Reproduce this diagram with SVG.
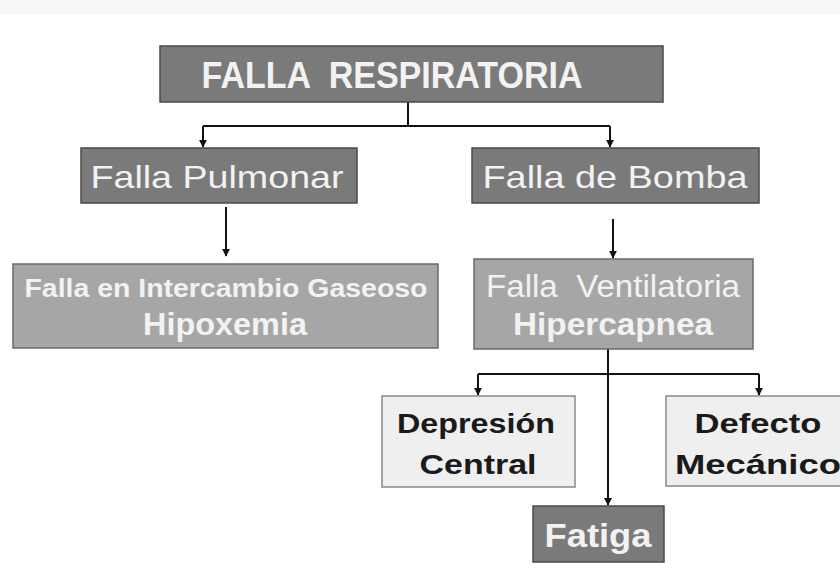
<svg xmlns="http://www.w3.org/2000/svg" width="840" height="571" viewBox="0 0 840 571" xml:space="preserve">
<defs>
<style>
.dark{fill:#7a7a7a;stroke:#4a4a4a;stroke-width:1.5}
.mid{fill:#a6a6a6;stroke:#6a6a6a;stroke-width:1.5}
.light{fill:#efefef;stroke:#8a8a8a;stroke-width:1.5}
.wt{fill:#f2f2f2;font-family:"Liberation Sans",Arial,sans-serif;text-anchor:middle;white-space:pre}
.bt{fill:#1a1a1a;font-family:"Liberation Sans",Arial,sans-serif;font-weight:bold;text-anchor:middle}
.b{font-weight:bold}
.con{fill:none;stroke:#111;stroke-width:2}
</style>
<marker id="ah" viewBox="0 0 10 10" refX="9" refY="5" markerWidth="4" markerHeight="4" orient="auto" markerUnits="strokeWidth">
<path d="M0,0 L10,5 L0,10 z" fill="#111"/>
</marker>
</defs>
<rect x="0" y="0" width="840" height="571" fill="#ffffff"/>
<rect x="0" y="0" width="840" height="14" fill="#f6f6f6"/>
<g id="connectors">
<path class="con" d="M408,102 V126 M203,126 H610"/>
<path class="con" d="M203,126 V147" marker-end="url(#ah)"/>
<path class="con" d="M610,126 V147" marker-end="url(#ah)"/>
<path class="con" d="M226,207 V256" marker-end="url(#ah)"/>
<path class="con" d="M613,219 V258" marker-end="url(#ah)"/>
<path class="con" d="M608,349 V505" marker-end="url(#ah)"/>
<path class="con" d="M478,374 H759"/>
<path class="con" d="M478,374 V395" marker-end="url(#ah)"/>
<path class="con" d="M759,374 V395" marker-end="url(#ah)"/>
</g>
<g id="falla-respiratoria">
<rect class="dark" x="160" y="46" width="503" height="56"/>
<text class="wt b" x="392" y="88" font-size="37" textLength="381" lengthAdjust="spacingAndGlyphs">FALLA  RESPIRATORIA</text>
</g>
<g id="falla-pulmonar">
<rect class="dark" x="81" y="148" width="276" height="55"/>
<text class="wt" x="217" y="188" font-size="32" textLength="253" lengthAdjust="spacingAndGlyphs">Falla Pulmonar</text>
</g>
<g id="falla-bomba">
<rect class="dark" x="472" y="148" width="287" height="55"/>
<text class="wt" x="615" y="188" font-size="32" textLength="265" lengthAdjust="spacingAndGlyphs">Falla de Bomba</text>
</g>
<g id="intercambio">
<rect class="mid" x="13" y="264" width="425" height="84"/>
<text class="wt b" x="226" y="297" font-size="25" textLength="403" lengthAdjust="spacingAndGlyphs">Falla en Intercambio Gaseoso</text>
<text class="wt b" x="225" y="335" font-size="31" textLength="164" lengthAdjust="spacingAndGlyphs">Hipoxemia</text>
</g>
<g id="ventilatoria">
<rect class="mid" x="474" y="259" width="279" height="90"/>
<text class="wt" x="613" y="297" font-size="31" textLength="254" lengthAdjust="spacingAndGlyphs">Falla  Ventilatoria</text>
<text class="wt b" x="613" y="335" font-size="31" textLength="200" lengthAdjust="spacingAndGlyphs">Hipercapnea</text>
</g>
<g id="depresion">
<rect class="light" x="382" y="396" width="193" height="91"/>
<text class="bt" x="476" y="433" font-size="28" textLength="158" lengthAdjust="spacingAndGlyphs">Depresión</text>
<text class="bt" x="478" y="474" font-size="28" textLength="117" lengthAdjust="spacingAndGlyphs">Central</text>
</g>
<g id="defecto">
<rect class="light" x="666" y="396" width="180" height="90"/>
<text class="bt" x="758" y="433" font-size="28" textLength="127" lengthAdjust="spacingAndGlyphs">Defecto</text>
<text class="bt" x="758" y="474" font-size="28" textLength="166" lengthAdjust="spacingAndGlyphs">Mecánico</text>
</g>
<g id="fatiga">
<rect class="dark" x="533" y="506" width="131" height="56"/>
<text class="wt b" x="598" y="547" font-size="34" textLength="107" lengthAdjust="spacingAndGlyphs">Fatiga</text>
</g>
</svg>
